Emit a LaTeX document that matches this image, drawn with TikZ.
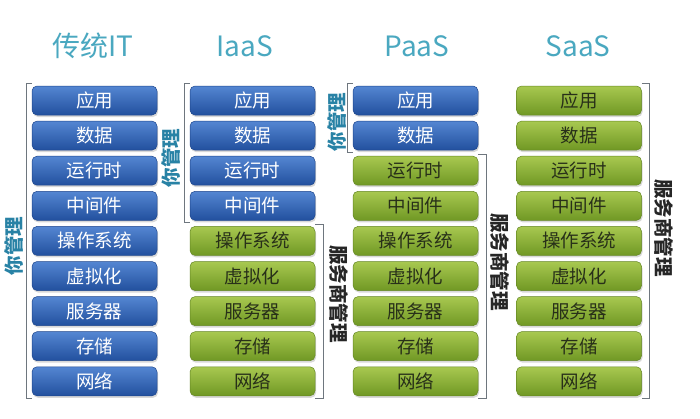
\documentclass[tikz,border=0pt]{standalone}
\usepackage{fontspec}
\setmainfont{Noto Sans CJK SC}
\usetikzlibrary{shadows,calc}
\definecolor{titlec}{RGB}{74,168,192}
\definecolor{youc}{RGB}{40,130,165}
\definecolor{blueT}{RGB}{84,134,210}
\definecolor{blueB}{RGB}{34,80,158}
\definecolor{blueD}{RGB}{30,70,140}
\definecolor{greenT}{RGB}{168,200,80}
\definecolor{greenB}{RGB}{112,152,36}
\definecolor{greenD}{RGB}{100,135,35}
\definecolor{brk}{RGB}{110,118,126}
\definecolor{gtext}{RGB}{40,48,25}
\tikzset{
  cell/.style={minimum width=125pt, minimum height=29pt, rounded corners=5pt, inner sep=0pt,
    font=\fontsize{18.5}{18.5}\selectfont, drop shadow={opacity=0.3, shadow xshift=1pt, shadow yshift=-2pt}},
  bluecell/.style={cell, draw=blueD, line width=0.5pt, top color=blueT, bottom color=blueB, text=white},
  greencell/.style={cell, draw=greenD, line width=0.5pt, top color=greenT, bottom color=greenB, text=gtext},
  ttl/.style={font=\fontsize{28}{28}\selectfont, text=titlec},
  youlbl/.style={font=\fontsize{19.5}{19.5}\selectfont\bfseries, text=youc, rotate=90},
  srvlbl/.style={font=\fontsize{19.5}{19.5}\selectfont\bfseries, text=black!85, rotate=-90},
  brkline/.style={draw=brk, line width=0.9pt}
}
\begin{document}
\begin{tikzpicture}[x=1pt,y=-1pt]
\useasboundingbox (0,0) rectangle (700,418);
\fill[white] (0,0) rectangle (700,418);
% titles
\node[ttl] (t1) at (93,46) {传统IT};
\node[ttl] (t2) at (245,46) {IaaS};
\node[ttl] (t3) at (417,46) {PaaS};
\node[ttl] (t4) at (578,46) {SaaS};
% cells
\foreach \col/\x/\nb in {1/94.5/9, 2/252.5/4, 3/415.5/2, 4/579/0}{
  \foreach \r/\txt in {1/应用,2/数据,3/运行时,4/中间件,5/操作系统,6/虚拟化,7/服务器,8/存储,9/网络}{
    \ifnum\r>\nb
      \node[greencell] (c\col r\r) at (\x,{100.5+35.1*(\r-1)}) {\txt};
    \else
      \node[bluecell] (c\col r\r) at (\x,{100.5+35.1*(\r-1)}) {\txt};
    \fi
  }
}
% brackets (left: you manage)
\draw[brkline] ($(c1r1.north west)+(0,-2)$) -- ++(-5,0) coordinate (b1a) -- ($(c1r9.south west)+(-5,2)$) coordinate (b1b) -- ++(5,0);
\draw[brkline] ($(c2r1.north west)+(0,-2)$) -- ++(-5,0) coordinate (b2a) -- ($(c2r4.south west)+(-5,2)$) coordinate (b2b) -- ++(5,0);
\draw[brkline] ($(c3r1.north west)+(0,-2)$) -- ++(-5,0) coordinate (b3a) -- ($(c3r2.south west)+(-5,2)$) coordinate (b3b) -- ++(5,0);
% brackets (right: provider manages)
\draw[brkline] ($(c2r5.north east)+(0,-2)$) -- ++(8,0) -- ($(c2r9.south east)+(8,2)$) -- ++(-8,0);
\draw[brkline] ($(c3r3.north east)+(0,-2)$) -- ++(8,0) -- ($(c3r9.south east)+(8,2)$) -- ++(-8,0);
\draw[brkline] ($(c4r1.north east)+(0,-2)$) -- ++(8,0) -- ($(c4r9.south east)+(8,2)$) -- ++(-8,0);
% labels
\node[youlbl] (y1) at (14,246) {你管理};
\node[youlbl] (y2) at (171,158) {你管理};
\node[youlbl] (y3) at (337,122) {你管理};
\node[srvlbl] (s2) at (339,294) {服务商管理};
\node[srvlbl] (s3) at (500,262) {服务商管理};
\node[srvlbl] (s4) at (664,228) {服务商管理};
\end{tikzpicture}
\end{document}
